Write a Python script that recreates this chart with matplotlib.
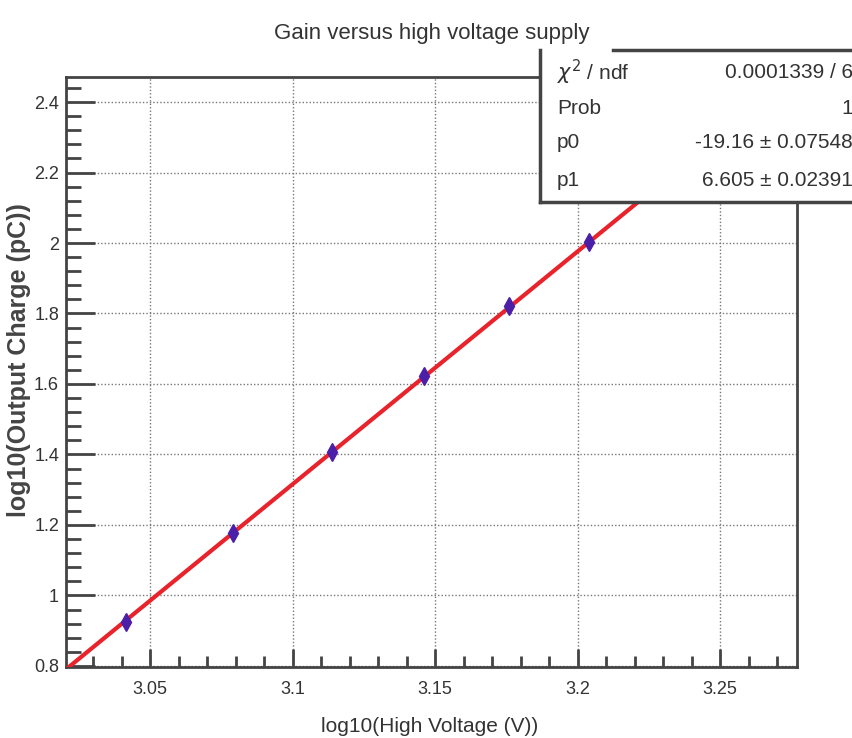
"""Gain vs HV supply - log-log fit"""
import numpy as np
import matplotlib
matplotlib.use("Agg")
import matplotlib.pyplot as plt
from matplotlib.lines import Line2D
from matplotlib.ticker import MultipleLocator

# data (log10 of HV in volts, log10 of output charge in pC)
log_hv = [3.0414, 3.0792, 3.1139, 3.1461, 3.1761, 3.2041]
log_q = [0.925, 1.178, 1.408, 1.622, 1.820, 2.003]
p0, p0_err = -19.16, 0.07548
p1, p1_err = 6.605, 0.02391
chi2_ndf = "0.0001339 / 6"
prob = "1"

font = ['Liberation Sans', 'DejaVu Sans']
txt = '#333333'

W, H = 853, 738
fig = plt.figure(figsize=(W / 100, H / 100), dpi=100)
ax = fig.add_axes([66 / W, 1 - 667 / H, (797 - 66) / W, (667 - 77) / H])

xmin, xmax = 3.0205, 3.277
ymin, ymax = 0.797, 2.471

# fit line over full range
xf = np.linspace(xmin, xmax, 50)
ax.plot(xf, p0 + p1 * xf, color='#e8232b', lw=3, zorder=3)
ax.plot(log_hv, log_q, marker='d', ls='none', color='#4b1fa8', ms=9, zorder=4)

ax.set_xlim(xmin, xmax)
ax.set_ylim(ymin, ymax)
ax.xaxis.set_major_locator(MultipleLocator(0.05))
ax.xaxis.set_minor_locator(MultipleLocator(0.01))
ax.yaxis.set_major_locator(MultipleLocator(0.2))
ax.yaxis.set_minor_locator(MultipleLocator(0.04))
ax.xaxis.set_major_formatter(plt.FuncFormatter(lambda v, p: f"{v:g}"))
ax.yaxis.set_major_formatter(plt.FuncFormatter(lambda v, p: f"{v:g}"))
ax.tick_params(which='both', direction='in', width=2, color='#444444', labelsize=13,
               labelcolor=txt)
ax.tick_params(axis='y', which='major', length=21, pad=5)
ax.tick_params(axis='y', which='minor', length=11)
ax.tick_params(axis='x', which='major', length=13, pad=10)
ax.tick_params(axis='x', which='minor', length=8)
for lab in ax.get_xticklabels() + ax.get_yticklabels():
    lab.set_family(font)
ax.grid(True, which='major', color='#777777', ls=(0, (1, 1.5)), lw=1)
for s in ax.spines.values():
    s.set_color('#444444')
    s.set_linewidth(2)

ax.set_xlabel("log10(High Voltage (V))", fontsize=15, family=font, color=txt)
ax.xaxis.set_label_coords((430 - 66) / (797 - 66), -(727 - 667) / (667 - 77))
ax.xaxis.label.set_va('center')
ax.set_ylabel("log10(Output Charge (pC))", fontsize=18, family=font, fontweight='semibold',
              color='#444444')
ax.yaxis.set_label_coords(-(66 - 19) / (797 - 66), (667 - 360) / (667 - 77))
ax.yaxis.label.set_va('center')

# title
fig.text(432 / W, 1 - 33 / H, "Gain versus high voltage supply", ha='center', va='center',
         fontsize=16, family=font, color=txt)

# stats box
bx0, bx1, by0, by1 = 540 / W, 1.0, 1 - 202 / H, 1 - 50 / H
fig.add_artist(plt.Rectangle((bx0, by0), bx1 - bx0, by1 - by0, transform=fig.transFigure,
                             facecolor='white', edgecolor='none', zorder=5))
for xs, ys in [([bx0, bx0], [by0, by1]), ([bx0, bx1], [by0, by0]), ([613 / W, bx1], [by1, by1])]:
    fig.add_artist(Line2D(xs, ys, transform=fig.transFigure, color='#444444', lw=2.5, zorder=6))

rows = [(r"$\chi^2$ / ndf", chi2_ndf),
        ("Prob", prob),
        ("p0", f"{p0:.2f} ± {p0_err}"),
        ("p1", f"{p1} ± {p1_err}")]
row_y = [72, 108, 143, 180]
for (k, v), yy in zip(rows, row_y):
    fig.text(557 / W, 1 - yy / H, k, ha='left', va='center', fontsize=15, family=font,
             color=txt, zorder=7)
    fig.text(853 / W, 1 - yy / H, v, ha='right', va='center', fontsize=15, family=font,
             color=txt, zorder=7)

fig.savefig('out.png', dpi=100)
